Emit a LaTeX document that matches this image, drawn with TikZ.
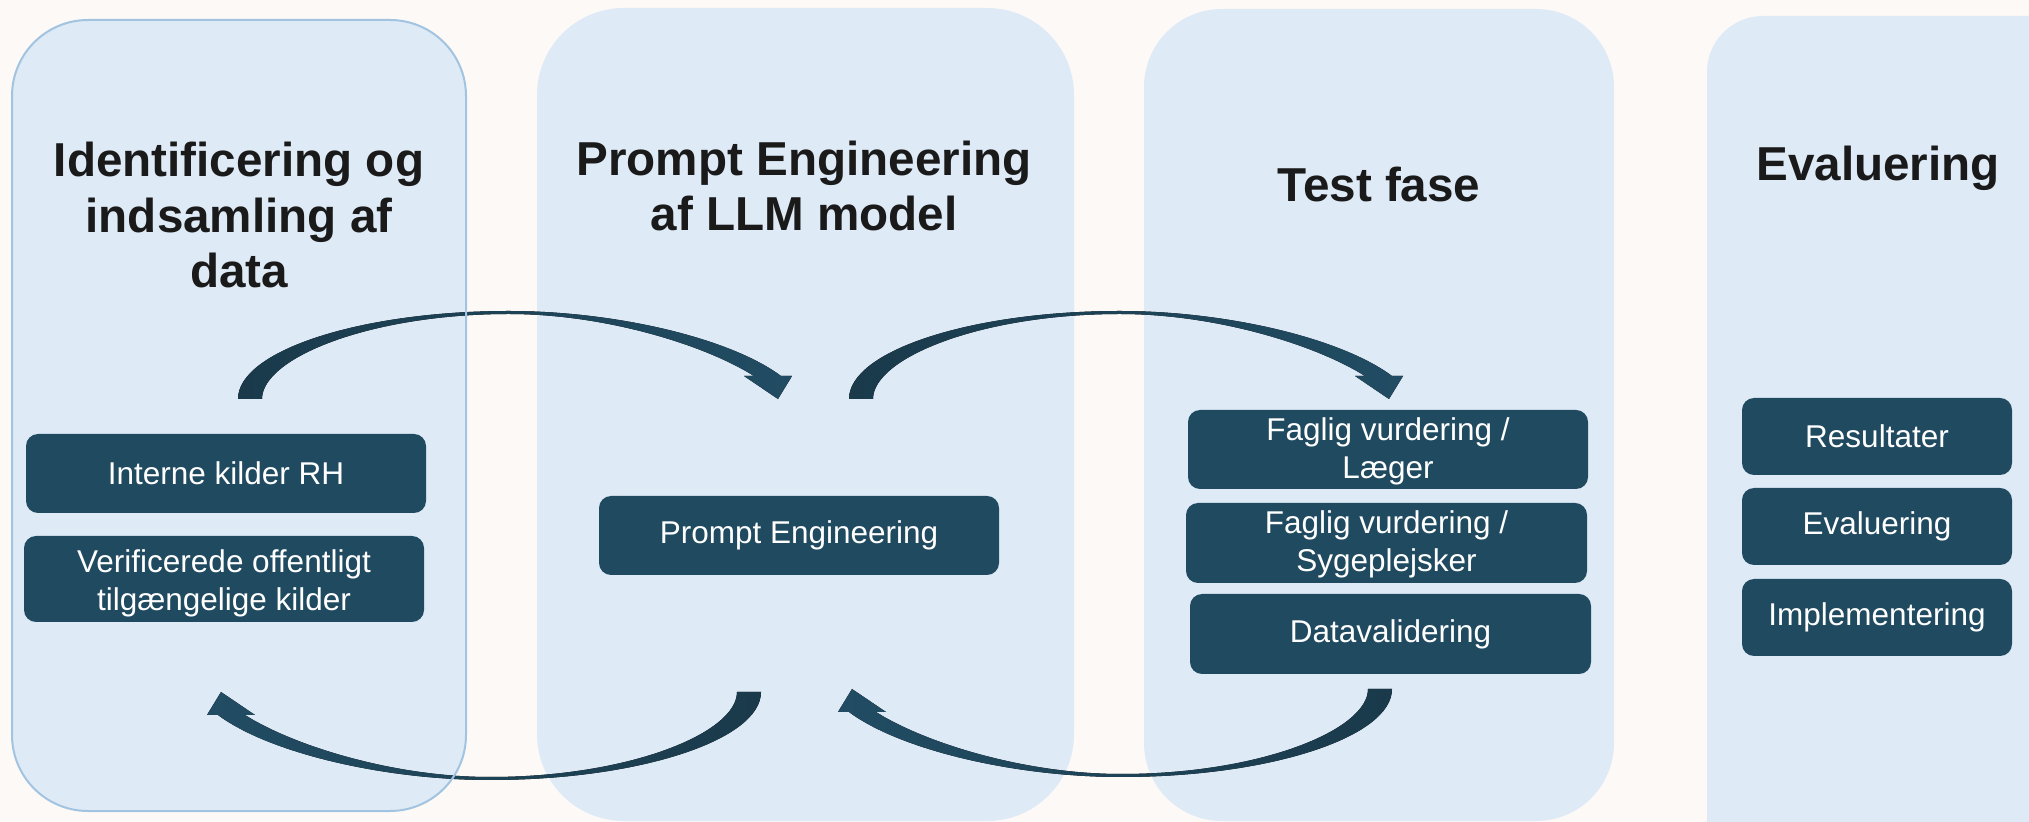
\documentclass[tikz,border=0pt]{standalone}
\usepackage{fontspec}
\setmainfont{Liberation Sans}
\definecolor{bg}{HTML}{FDF9F6}
\definecolor{panel}{HTML}{DEEAF6}
\definecolor{panelline}{HTML}{A3C4E0}
\definecolor{boxc}{HTML}{204A60}
\definecolor{arrowc}{HTML}{214C63}
\definecolor{arrowd}{HTML}{1A3A4B}
\definecolor{headc}{HTML}{1A1A1A}
\newcommand{\lowertext}[2]{\raisebox{-#1}[\height][\depth]{\begin{tabular}{@{}c@{}}#2\end{tabular}}}
\begin{document}
\begin{tikzpicture}[x=0.5pt,y=-0.5pt,
  heading/.style={font=\fontsize{23.8}{27.8}\selectfont\bfseries, text=headc, align=center, inner sep=0pt, anchor=base},
  darkbox/.style={fill=boxc, rounded corners=6pt, text=white, font=\fontsize{15.75}{19.2}\selectfont, align=center, inner sep=0pt},
  arrowfill/.style={left color=arrowd, right color=arrowc},
  arrowfillrev/.style={left color=arrowc, right color=arrowd},
  carrow/.pic={
    \fill[pic actions]
      (0,0) .. controls (0,-48) and (122,-88) .. (271,-88)
      .. controls (377,-88) and (492,-61) .. (543,-23)
      -- (554,-23) -- (540,0) -- (506,-23) -- (516,-23)
      .. controls (467,-54) and (367,-85) .. (271,-85)
      .. controls (132,-85) and (24,-41) .. (24,0) -- cycle;
  }
]
\useasboundingbox (0,0) rectangle (2029,822);
\fill[bg] (0,0) rectangle (2029,822);
\clip (0,0) rectangle (2029,822);
% panels
\fill[panel, rounded corners=38pt] (12,20) rectangle (466,811);
\fill[panel, rounded corners=43.5pt] (537,8) rectangle (1074,821);
\fill[panel, rounded corners=39pt] (1144,9) rectangle (1614,821);
\fill[panel, rounded corners=28pt] (1707,16) rectangle (2140,900);
% curved arrows
\pic[arrowfill] at (238,399) {carrow};
\pic[arrowfill] at (849,399) {carrow};
\pic[arrowfillrev, rotate=180] at (761,692) {carrow};
\pic[arrowfillrev, rotate=180] at (1392,689) {carrow};
% panel 1 outline
\draw[panelline, line width=1pt, rounded corners=38pt] (12,20) rectangle (466,811);
% headings (base = baseline of last line)
\node[heading] (h1) at (239,288) {Identificering og\\indsamling af\\data};
\node[heading] (h2) at (804,231) {Prompt Engineering\\af LLM model};
\node[heading] (h3) at (1379,202) {Test fase};
\node[heading] (h4) at (1878,181) {Evaluering};
% boxes
\node[darkbox, minimum width=200pt, minimum height=39.5pt] (b1) at (226,473.5) {Interne kilder RH};
\node[darkbox, minimum width=200pt, minimum height=43pt] (b2) at (224,579) {\lowertext{2.5pt}{Verificerede offentligt\\[-0.3pt]tilgængelige kilder}};
\node[darkbox, minimum width=200pt, minimum height=39.5pt] (b3) at (799,535.5) {Prompt Engineering};
\node[darkbox, minimum width=200pt, minimum height=39.5pt] (t1) at (1388,449.5) {\lowertext{1pt}{Faglig vurdering /\\[-0.3pt]Læger}};
\node[darkbox, minimum width=200.5pt, minimum height=40pt] (t2) at (1386.5,543) {\lowertext{1pt}{Faglig vurdering /\\[-0.3pt]Sygeplejsker}};
\node[darkbox, minimum width=200.5pt, minimum height=40pt] (t3) at (1390.5,634) {Datavalidering};
\node[darkbox, minimum width=135pt, minimum height=38.5pt] (e1) at (1877,436.5) {Resultater};
\node[darkbox, minimum width=135pt, minimum height=38.5pt] (e2) at (1877,526.5) {Evaluering};
\node[darkbox, minimum width=135pt, minimum height=38.5pt] (e3) at (1877,617.5) {Implementering};
\end{tikzpicture}
\end{document}
